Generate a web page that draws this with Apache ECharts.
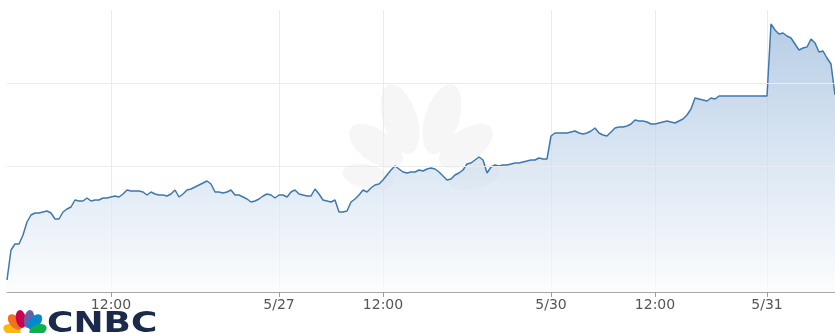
<!DOCTYPE html>
<html><head><meta charset="utf-8">
<script src="https://cdn.jsdelivr.net/npm/echarts@6/dist/echarts.min.js"></script>
<style>html,body{margin:0;padding:0;background:#fff}#c{width:835px;height:333px}</style>
</head><body><div id="c"></div>
<script>
// price series (relative units), one point per sample
const values = [
  12, 42, 48, 48, 57, 70, 77, 79, 79, 80,
  81, 79, 73, 73, 80, 83, 85, 92, 91, 91,
  94, 91, 92, 92, 94, 94, 95, 96, 95, 98,
  102, 101, 101, 101, 100, 97, 100, 98, 97, 97,
  96, 98, 102, 95, 98, 102, 103, 105, 107, 109,
  111, 108, 100, 100, 99, 100, 102, 97, 97, 95,
  93, 90, 91, 93, 96, 98, 97, 94, 97, 97,
  95, 100, 102, 98, 97, 96, 96, 103, 98, 92,
  91, 90, 92, 80, 80, 81, 90, 93, 97, 102,
  100, 104, 107, 108, 112, 117, 122, 126, 123, 120,
  119, 120, 120, 122, 121, 123, 124, 123, 120, 116,
  112, 113, 117, 119, 122, 128, 129, 132, 135, 132,
  119, 125, 127, 126, 127, 127, 128, 129, 129, 130,
  131, 132, 132, 134, 133, 133, 156, 159, 159, 159,
  159, 160, 161, 159, 158, 159, 161, 164, 159, 157,
  156, 160, 164, 165, 165, 166, 168, 172, 171, 171,
  170, 168, 168, 169, 170, 171, 170, 169, 171, 173,
  177, 183, 194, 193, 192, 191, 194, 193, 196, 196,
  196, 196, 196, 196, 196, 196, 196, 196, 196, 196,
  196, 268, 262, 258, 259, 256, 254, 248, 242, 244,
  245, 253, 249, 240, 241, 234, 228, 197
];
const tickIndex = [26, 68, 94, 136, 162, 190];
const tickLabels = ['12:00', '5/27', '12:00', '5/30', '12:00', '5/31'];
const gridLevels = [126, 209];
const yMin = 0, yMax = 282;

const categories = values.map((_, i) => {
  const k = tickIndex.indexOf(i);
  return k >= 0 ? tickLabels[k] : 't' + i;
});
const isTick = (i) => tickIndex.indexOf(i) >= 0;

const chart = echarts.init(document.getElementById('c'), null, {renderer: 'canvas'});

function feather(x, y, rx, ry, rot, color) {
  return {type: 'ellipse', x: x, y: y, rotation: rot, z: 0, silent: true,
    shape: {cx: 0, cy: 0, rx: rx, ry: ry}, style: {fill: color}};
}
const wm = '#f6f6f6';
const graphics = [
  feather(400, 119, 17, 36, 0.3, wm),
  feather(442, 119, 17, 36, -0.3, wm),
  feather(376, 146, 16, 31, 0.95, wm),
  feather(466, 146, 16, 31, -0.95, wm),
  feather(368, 177, 12, 26, 1.35, wm),
  feather(474, 177, 12, 26, -1.35, wm),
  feather(12, 330, 5.5, 9, 1.2, '#fcb711'),
  feather(15, 322, 5.5, 9, 0.7, '#f37021'),
  feather(21, 319, 5, 9, 0.2, '#cc004c'),
  feather(29, 319, 5, 9, -0.2, '#6460aa'),
  feather(35, 322, 5.5, 9, -0.7, '#0089d0'),
  feather(38, 330, 5.5, 9, -1.2, '#0db14b'),
  {type: 'text', x: 47, y: 324, scaleX: 1.24, z: 10, silent: true,
    style: {text: 'CNBC', fill: '#1b2a4a', font: 'bold 29px "DejaVu Sans"', align: 'left', verticalAlign: 'middle'}}
];

chart.setOption({
  animation: false,
  grid: {left: 7, right: 0, top: 10, bottom: 41},
  xAxis: {
    type: 'category', data: categories, boundaryGap: false,
    axisLine: {lineStyle: {color: '#a8a8a8', width: 1}},
    axisTick: {interval: (i) => isTick(i), length: 5, lineStyle: {color: '#a0a0a0'}},
    axisLabel: {interval: (i) => isTick(i), color: '#555', fontFamily: 'DejaVu Sans', fontSize: 14, margin: 6},
    splitLine: {show: true, interval: (i) => isTick(i), lineStyle: {color: '#ebebeb', width: 1}}
  },
  yAxis: {type: 'value', min: yMin, max: yMax, show: false},
  series: [
    {type: 'line', data: values, symbol: 'none', z: 1, silent: true,
      lineStyle: {opacity: 0},
      markLine: {silent: true, symbol: 'none', animation: false, label: {show: false},
        lineStyle: {color: '#ebebeb', type: 'solid', width: 1},
        data: gridLevels.map(v => ({yAxis: v}))}},
    {type: 'line', data: values, symbol: 'none', z: 3,
      lineStyle: {color: '#3f78ab', width: 1.5},
      areaStyle: {color: new echarts.graphic.LinearGradient(0, 0, 0, 1, [
        {offset: 0, color: '#97b7da'},
        {offset: 0.45, color: '#c6d8ec'},
        {offset: 1, color: '#f9fbfd'}
      ])}}
  ],
  graphic: {elements: graphics}
});
</script>
</body></html>
